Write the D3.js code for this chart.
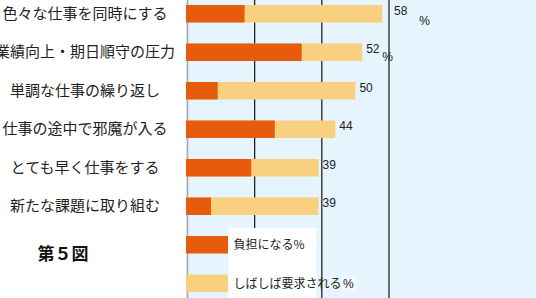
<!DOCTYPE html>
<html><head><meta charset="utf-8">
<script src="https://cdn.jsdelivr.net/npm/d3@7"></script>
<style>
html,body{margin:0;padding:0;background:#fff;}
svg{display:block;}
text{font-family:"Noto Sans CJK JP","Noto Sans",sans-serif;}
text.num{font-family:"Liberation Sans",Arial,sans-serif;}
</style></head>
<body>
<svg id="c" width="536" height="298"></svg>
<script>
const categories = ["色々な仕事を同時にする","業績向上・期日順守の圧力","単調な仕事の繰り返し","仕事の途中で邪魔が入る","とても早く仕事をする","新たな課題に取り組む"];
const demanded = [58,52,50,44,39,39];   // しばしば要求される %
const burden = [17,34,9,26,19,7];       // 負担になる %
const xTicks = [20,40,60];
const legendLabels = ["負担になる%","しばしば要求される"];
const title = "第５図";

const W=536,H=298;
const svg=d3.select("#c");
const x=d3.scaleLinear().domain([0,60]).range([187.5,389]);
const y=d3.scaleBand().domain(categories).range([-5.5,225.5]).paddingInner(0.545).paddingOuter(0.2725);
const step=y.step(), bh=y.bandwidth();
const orange="#E65C0C", yellow="#F9D07F";

// plot background
svg.append("rect").attr("x",x(0)-1.5).attr("y",0).attr("width",W-x(0)+1.5).attr("height",H).attr("fill","#E6F4FE");
// gridlines
svg.selectAll("line.g").data(xTicks).join("line").attr("class","g")
  .attr("x1",d=>x(d)).attr("x2",d=>x(d)).attr("y1",0).attr("y2",H)
  .attr("stroke","#111").attr("stroke-width",1.2);
// left axis
svg.append("line").attr("x1",x(0)).attr("x2",x(0)).attr("y1",0).attr("y2",H).attr("stroke","#A8A8B0").attr("stroke-width",1.5);

// bars
const g=svg.append("g");
g.selectAll("rect.d").data(categories).join("rect").attr("class","d")
  .attr("x",x(0)-1.5).attr("y",d=>y(d)).attr("height",bh)
  .attr("width",(d,i)=>x(demanded[i])-x(0)+1.5).attr("fill",yellow);
g.selectAll("rect.b").data(categories).join("rect").attr("class","b")
  .attr("x",x(0)-1.5).attr("y",d=>y(d)).attr("height",bh)
  .attr("width",(d,i)=>x(burden[i])-x(0)+1.5).attr("fill",orange);

// value labels (shifted past the 60 gridline when they would collide)
const gl=x(60);
function lx(v){ let p=x(v)+4; if(p<gl+5 && p+14>gl) p=gl+5; return p; }
g.selectAll("text.v").data(categories).join("text").attr("class","v num")
  .attr("x",(d,i)=>lx(demanded[i])).attr("y",d=>y(d)+10)
  .attr("font-size",12).attr("fill","#222").text((d,i)=>demanded[i]);
// stray % marks
svg.append("text").attr("class","num").attr("x",x(demanded[0])+37).attr("y",y(categories[0])+20)
  .attr("font-size",12).attr("fill","#222").text("%");
svg.append("text").attr("class","num").attr("x",x(demanded[1])+20).attr("y",y(categories[1])+18)
  .attr("font-size",12).attr("fill","#222").text("%");

// category labels
svg.selectAll("text.c").data(categories).join("text").attr("class","c")
  .attr("x",85).attr("y",d=>y(d)+bh/2+5).attr("text-anchor","middle")
  .attr("font-size",15).attr("fill","#222").text(d=>d);

// title
svg.append("text").attr("x",63).attr("y",260).attr("text-anchor","middle")
  .attr("font-size",17).attr("font-weight","bold").attr("fill","#111").text(title);

// legend
const ly0=y(categories[5])+step;
svg.append("rect").attr("x",x(0)+41).attr("y",ly0-8).attr("width",88).attr("height",H-ly0+8).attr("fill","#fff");
const lg=svg.append("g");
[orange,yellow].forEach((c,i)=>{
  const yy=ly0+i*step;
  lg.append("rect").attr("x",x(0)-1.5).attr("y",yy).attr("width",42).attr("height",bh).attr("fill",c);
  lg.append("text").attr("x",x(0)+46).attr("y",yy+bh/2+4.5).attr("font-size",12).attr("fill","#222").text(legendLabels[i]);
});
const py=ly0+step;
svg.append("rect").attr("x",342).attr("y",py+1).attr("width",15).attr("height",16).attr("fill","#F4F8FD");
svg.append("text").attr("class","num").attr("x",343).attr("y",py+bh/2+5).attr("font-size",12).attr("fill","#222").text("%");
</script>
</body></html>
